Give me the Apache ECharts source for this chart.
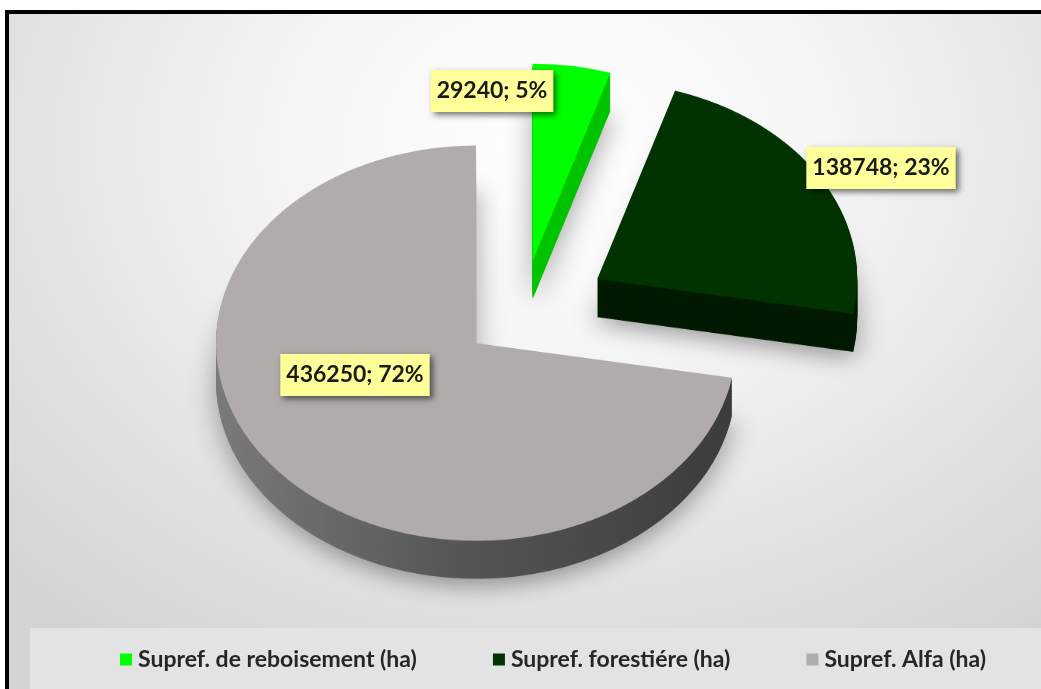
<!DOCTYPE html>
<html>
<head>
<meta charset="utf-8">
<script src="https://cdn.jsdelivr.net/npm/echarts@6/dist/echarts.min.js"></script>
<style>
html, body { margin: 0; padding: 0; background: #fff; overflow: hidden; }
#frame {
  position: absolute; left: 5px; top: 10px; width: 1100px; height: 720px;
  border: 4px solid #000;
  background: radial-gradient(ellipse 70% 85% at 50% 18%, #ffffff 0%, #f5f5f5 35%, #e0e0e0 75%, #d4d4d4 100%);
}
#band { position: absolute; left: 30px; top: 628px; width: 1100px; height: 100px; background: #e3e3e3; }
/* pie layer is drawn tall and squashed to look tilted */
#pie {
  position: absolute; left: 0; top: 0; width: 1041px; height: 907px;
  transform: scaleY(0.76); transform-origin: 0 0;
}
#labels { position: absolute; left: 0; top: 0; width: 1041px; height: 689px; }
</style>
</head>
<body>
<div id="frame"></div>
<div id="band"></div>
<div id="pie"></div>
<div id="labels"></div>
<script>
const names = ['Supref. de reboisement (ha)', 'Supref. forestiére (ha)', 'Supref. Alfa (ha)']
const values = [29240, 138748, 436250]

const topColors = ['#00FF00', '#003300', '#B0ACAC']
const greySide = {
  type: 'linear', x: 0, y: 0, x2: 1, y2: 0,
  colorStops: [
    { offset: 0, color: '#7a7a7a' },
    { offset: 0.45, color: '#575757' },
    { offset: 1, color: '#3c3c3c' }
  ]
}
const sideColors = ['#00C400', '#001A00', greySide]

const squash = 0.76
const depth = 50                 // thickness in unscaled px
const center = [522, 413]        // unscaled coords
const radius = 260
const explode = [70, 88, 60]     // per slice, like excel's point explosion

// one slice drawn per series so each can have its own explosion
function pieLayer(colors, dy, j, extra) {
  return Object.assign({
    type: 'pie',
    center: [center[0], center[1] + dy],
    radius: radius,
    startAngle: 90,
    clockwise: true,
    selectedMode: 'multiple',
    selectedOffset: explode[j],
    silent: true,
    animation: false,
    label: { show: false },
    labelLine: { show: false },
    emphasis: { disabled: true },
    data: names.map((n, i) => ({
      name: n,
      value: values[i],
      selected: true,
      itemStyle: { color: i === j ? colors[i] : 'rgba(0,0,0,0)' }
    }))
  }, extra || {})
}

const layers = []
for (let dy = depth; dy > 0; dy -= 2) {
  const extra = dy === depth ? {
    itemStyle: { shadowColor: 'rgba(0,0,0,0.35)', shadowBlur: 28, shadowOffsetY: 10 }
  } : {}
  for (let j = 0; j < names.length; j++) layers.push(pieLayer(sideColors, dy, j, extra))
}
for (let j = 0; j < names.length; j++) layers.push(pieLayer(topColors, 0, j))

const pieChart = echarts.init(document.getElementById('pie'))
pieChart.setOption({ animation: false, series: layers })

// labels + legend, drawn unsquashed on top
const labelPos = [[492, 91], [881, 168], [355, 375]]

const labelChart = echarts.init(document.getElementById('labels'))
labelChart.setOption({
  animation: false,
  legend: {
    data: names.map((n, i) => ({ name: n, itemStyle: { color: topColors[i], opacity: 1 } })),
    left: 120,
    top: 648,
    padding: 0,
    itemGap: 76,
    icon: 'rect',
    itemWidth: 12,
    itemHeight: 12,
    selectedMode: false,
    textStyle: { fontFamily: 'Lato', fontWeight: 'bold', fontSize: 23, color: '#262626', padding: [0, 0, 0, 1] }
  },
  series: [{
    type: 'pie',
    center: [526, 312],
    radius: 200,
    startAngle: 90,
    silent: true,
    itemStyle: { color: 'rgba(0,0,0,0)' },
    labelLine: { show: false },
    label: {
      show: true,
      position: 'outside',
      formatter: p => p.value + '; ' + Math.round(p.percent) + '%',
      fontFamily: 'Lato',
      fontWeight: 'bold',
      fontSize: 23,
      color: '#1a1a1a',
      backgroundColor: '#FFFF99',
      padding: [10, 6, 9, 6],
      shadowColor: 'rgba(0,0,0,0.55)',
      shadowBlur: 6,
      shadowOffsetX: 3,
      shadowOffsetY: 3
    },
    labelLayout: p => ({
      x: labelPos[p.dataIndex][0],
      y: labelPos[p.dataIndex][1],
      align: 'center',
      verticalAlign: 'middle'
    }),
    data: names.map((n, i) => ({ name: n, value: values[i] }))
  }]
})
</script>
</body>
</html>
